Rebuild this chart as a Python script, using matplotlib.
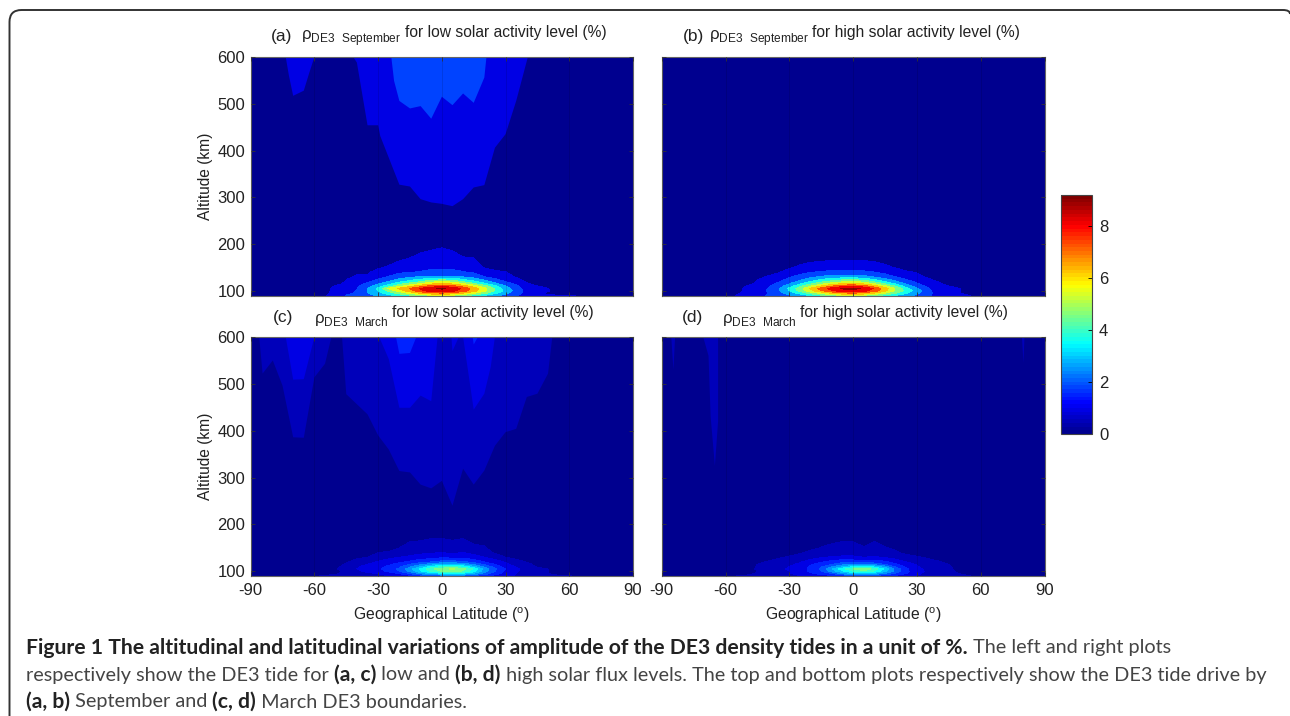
#altitude / latitude amplitude of DE3 density tide, 4 panels plus one colorbar
import numpy as np
import matplotlib
matplotlib.use('Agg')
import matplotlib.pyplot as plt
from matplotlib.colors import LinearSegmentedColormap, Normalize
from matplotlib.cm import ScalarMappable
from matplotlib.patches import PathPatch
from matplotlib.path import Path

plt.rcParams['font.family'] = ['Liberation Sans', 'DejaVu Sans']
plt.rcParams['mathtext.fontset'] = 'custom'
plt.rcParams['mathtext.rm'] = 'Liberation Sans'
plt.rcParams['axes.unicode_minus'] = False

W, H = 1290, 716

# lower blob tables, rows = altitude, columns = latitude
low_lat = list(range(-60, 75, 5))
low_alt = [90, 95, 100, 105, 110, 115, 120, 130, 140, 150, 170, 200]

a_low = [
    [.5, .85, 1.3, 1.9, 2.2, 2.5, 2.9, 3.4, 3.9, 4.4, 4.9, 5.3, 5.5, 5.3, 4.8, 4.2, 3.6, 3.0, 2.4, 1.9, 1.4, 1.1, 1.0, .95, .95, .9, .7],
    [.4, .75, 1.15, 1.5, 2.0, 2.7, 3.3, 4.1, 4.9, 5.7, 6.5, 7.1, 7.3, 7.0, 6.4, 5.6, 4.8, 3.9, 3.0, 2.2, 1.5, 1.0, .8, .7, .6, .5, .4],
    [.3, .75, 1.1, 1.4, 1.9, 2.8, 3.7, 4.8, 5.9, 7.0, 8.0, 8.7, 8.9, 8.6, 7.8, 6.8, 5.7, 4.5, 3.4, 2.4, 1.5, 1.1, 1.0, .5, .3, .2, .2],
    [.3, .75, 1.1, 1.35, 1.8, 2.8, 3.9, 5.7, 6.6, 7.4, 8.4, 9.1, 9.3, 9.0, 8.0, 7.0, 5.8, 4.5, 3.2, 2.2, 1.4, 1.05, .95, .4, .2, .15, .1],
    [.15, .5, 1.0, 1.2, 1.7, 2.4, 3.2, 4.2, 5.3, 6.2, 7.0, 7.7, 8.0, 7.7, 6.9, 6.0, 5.0, 3.9, 2.8, 2.0, 1.3, .95, .6, .3, .15, .1, .1],
    [.1, .2, .7, 1.1, 1.5, 2.0, 2.7, 3.4, 4.3, 5.0, 5.6, 6.3, 6.6, 6.3, 5.6, 4.8, 3.9, 3.0, 2.2, 1.7, 1.0, .7, .4, .2, .1, .1, .1],
    [.1, .1, .4, 1.0, 1.3, 1.7, 2.2, 2.8, 3.4, 4.0, 4.5, 5.2, 5.5, 5.2, 4.5, 3.8, 3.1, 2.4, 1.8, 1.3, .85, .55, .3, .1, .1, .1, .1],
    [.05, .1, .3, .8, 1.0, 1.0, 1.5, 1.9, 2.3, 2.6, 2.8, 2.9, 2.9, 2.9, 2.7, 2.4, 1.85, 1.5, 1.2, .85, .6, .3, .2, .1, .1, .05, .05],
    [.05, .05, .2, .6, .8, .85, 1.1, 1.4, 1.7, 1.8, 1.9, 2.0, 2.0, 2.0, 1.9, 1.7, 1.5, 1.05, .95, .6, .4, .2, .1, .05, .05, .05, .05],
    [.05, .05, .1, .4, .6, .7, .85, 1.0, 1.2, 1.4, 1.6, 1.7, 1.7, 1.7, 1.5, 1.3, .85, .7, .6, .4, .2, .1, .05, .05, .05, .05, .05],
    [0, 0, .05, .2, .3, .4, .5, .65, .8, .93, 1.1, 1.2, 1.25, 1.15, .95, .93, .6, .4, .3, .2, .1, .05, 0, 0, 0, 0, 0],
    [0, 0, 0, 0, 0, .1, .2, .3, .4, .5, .6, .7, .8, .7, .6, .5, .3, .2, .1, 0, 0, 0, 0, 0, 0, 0, 0],
]
b_low = [
    [.4, .95, 1.1, 1.5, 1.9, 2.2, 2.6, 3.1, 3.7, 4.3, 4.9, 5.3, 5.5, 5.2, 4.7, 4.1, 3.5, 3.0, 2.5, 2.0, 1.4, 1.0, .95, .9, .9, .7, .5],
    [.3, .75, 1.1, 1.4, 1.8, 2.4, 3.1, 3.9, 4.8, 5.6, 6.4, 7.0, 7.2, 6.9, 6.2, 5.4, 4.5, 3.7, 2.9, 2.1, 1.4, 1.0, .9, .6, .5, .4, .3],
    [.2, .7, 1.05, 1.4, 1.9, 2.6, 3.6, 4.8, 6.0, 7.1, 8.0, 8.6, 8.8, 8.4, 7.6, 6.5, 5.3, 4.2, 3.1, 2.1, 1.3, 1.0, .95, .4, .2, .15, .1],
    [.2, .65, 1.05, 1.3, 1.8, 2.6, 3.8, 5.0, 6.4, 7.6, 8.5, 9.1, 9.2, 8.9, 8.0, 6.7, 5.3, 3.9, 2.8, 1.9, 1.25, 1.0, .92, .3, .15, .1, .1],
    [.1, .4, .95, 1.2, 1.7, 2.3, 3.2, 4.3, 5.4, 6.4, 7.2, 7.8, 8.0, 7.6, 6.7, 5.6, 4.4, 3.2, 2.3, 1.6, 1.2, .92, .5, .2, .1, .1, .1],
    [.1, .1, .6, 1.1, 1.5, 2.0, 2.7, 3.5, 4.4, 5.2, 5.9, 6.4, 6.6, 6.2, 5.4, 4.5, 3.5, 2.6, 1.9, 1.4, 1.05, .6, .3, .1, .1, .1, .1],
    [.1, .1, .4, 1.0, 1.3, 1.7, 2.3, 2.9, 3.6, 4.2, 4.8, 5.2, 5.4, 5.0, 4.3, 3.5, 2.8, 2.1, 1.6, 1.2, .85, .4, .2, .1, .1, .1, .1],
    [0, 0, .2, .75, .95, 1.2, 1.7, 2.1, 2.5, 2.8, 3.0, 3.1, 3.1, 3.0, 2.6, 2.2, 1.8, 1.4, 1.1, .8, .5, .2, .1, 0, 0, 0, 0],
    [0, 0, .1, .5, .7, .85, 1.2, 1.5, 1.75, 1.9, 2.0, 2.0, 2.0, 1.95, 1.8, 1.55, 1.25, 1.0, .85, .5, .3, .1, .05, 0, 0, 0, 0],
    [0, 0, .05, .3, .5, .6, .8, 1.05, 1.2, 1.3, 1.4, 1.45, 1.45, 1.4, 1.25, 1.05, .85, .6, .5, .3, .1, 0, 0, 0, 0, 0, 0],
    [0, 0, 0, .1, .2, .3, .4, .55, .65, .7, .72, .74, .75, .72, .68, .6, .5, .3, .2, .1, 0, 0, 0, 0, 0, 0, 0],
    [0, 0, 0, 0, 0, 0, .1, .2, .3, .3, .4, .4, .4, .4, .3, .3, .2, .1, 0, 0, 0, 0, 0, 0, 0, 0, 0],
]
c_low = [
    [.45, .55, .6, .7, .85, .9, .95, 1.0, 1.1, 1.3, 1.6, 1.8, 2.0, 2.1, 2.0, 1.7, 1.5, 1.3, 1.1, .95, .8, .7, .6, .55, .52, .45, .4],
    [.3, .35, .45, .6, .8, .9, 1.0, 1.2, 1.5, 2.0, 2.6, 3.0, 3.3, 3.5, 3.3, 2.9, 2.3, 1.7, 1.3, 1.0, .8, .6, .5, .4, .3, .2, .2],
    [.2, .3, .4, .6, .9, 1.1, 1.3, 1.6, 2.0, 2.6, 3.4, 4.1, 4.5, 4.8, 4.4, 3.7, 2.7, 2.0, 1.4, 1.05, .8, .6, .5, .3, .2, .1, .1],
    [.2, .25, .45, .7, 1.0, 1.2, 1.4, 1.7, 2.1, 2.8, 3.6, 4.4, 4.8, 5.1, 4.7, 3.9, 2.8, 2.1, 1.5, 1.1, .8, .6, .5, .2, .1, .1, .1],
    [.1, .2, .4, .65, .95, 1.15, 1.35, 1.6, 1.9, 2.4, 3.0, 3.6, 4.0, 4.1, 3.8, 3.1, 2.4, 1.8, 1.3, .95, .7, .45, .3, .1, .1, .1, .1],
    [.1, .1, .3, .55, .85, 1.0, 1.2, 1.4, 1.7, 2.0, 2.4, 2.7, 3.0, 3.0, 2.8, 2.4, 1.9, 1.5, 1.1, .8, .6, .4, .2, .1, .1, .1, .1],
    [.1, .1, .2, .45, .7, .8, 1.05, 1.2, 1.4, 1.6, 1.85, 2.0, 2.2, 2.2, 2.1, 1.85, 1.5, 1.25, .95, .7, .48, .3, .1, .1, .1, .1, .1],
    [0, 0, .1, .3, .4, .5, .75, .9, 1.0, 1.1, 1.2, 1.3, 1.4, 1.35, 1.35, 1.2, 1.0, .75, .5, .35, .2, .1, 0, 0, 0, 0, 0],
    [0, 0, 0, .15, .2, .3, .5, .55, .7, .8, .9, .95, 1.0, .9, 1.0, .85, .7, .45, .35, .2, .1, 0, 0, 0, 0, 0, 0],
    [0, 0, 0, .1, .1, .2, .3, .35, .5, .6, .65, .75, .75, .7, .75, .6, .55, .3, .2, .1, 0, 0, 0, 0, 0, 0, 0],
    [0, 0, 0, 0, .05, .1, .2, .3, .35, .45, .45, .5, .5, .45, .5, .35, .3, .2, .1, 0, 0, 0, 0, 0, 0, 0, 0],
    [0, 0, 0, 0, 0, 0, .1, .1, .1, .1, .1, .1, .1, .1, .1, .1, .1, .1, 0, 0, 0, 0, 0, 0, 0, 0, 0],
]
d_low = [
    [.3, .5, .55, .6, .7, .8, .9, .95, 1.1, 1.2, 1.3, 1.5, 1.7, 1.8, 1.7, 1.5, 1.3, 1.1, .95, .8, .7, .6, .55, .5, .35, .2, .1],
    [.2, .3, .4, .55, .7, .8, .95, 1.2, 1.4, 1.7, 2.0, 2.6, 3.0, 3.1, 2.9, 2.4, 1.9, 1.5, 1.1, .85, .7, .55, .5, .3, .2, .1, .1],
    [.1, .2, .3, .5, .7, .85, 1.0, 1.3, 1.6, 2.0, 2.7, 3.4, 4.0, 4.3, 3.9, 3.1, 2.3, 1.6, 1.2, .9, .7, .55, .45, .2, .1, .1, .1],
    [.1, .15, .35, .55, .75, .9, 1.05, 1.3, 1.6, 2.1, 3.0, 3.8, 4.5, 4.9, 4.3, 3.4, 2.3, 1.6, 1.15, .85, .7, .55, .42, .15, .1, .1, .1],
    [.1, .1, .25, .55, .7, .85, 1.0, 1.25, 1.55, 1.95, 2.5, 3.0, 3.5, 3.7, 3.3, 2.7, 1.9, 1.4, 1.05, .8, .65, .55, .3, .1, .1, .1, .1],
    [.1, .1, .15, .5, .65, .75, .9, 1.1, 1.45, 1.7, 2.0, 2.3, 2.5, 2.5, 2.3, 1.95, 1.55, 1.2, .95, .75, .6, .5, .2, .1, .1, .1, .1],
    [.1, .1, .1, .4, .55, .65, .8, .95, 1.25, 1.45, 1.7, 1.85, 1.8, 1.7, 1.75, 1.6, 1.3, 1.0, .85, .65, .55, .4, .1, .1, .1, .1, .1],
    [0, 0, 0, .2, .3, .45, .55, .7, .8, .95, 1.05, 1.1, 1.1, 1.0, 1.05, .95, .8, .65, .55, .45, .3, .2, 0, 0, 0, 0, 0],
    [0, 0, 0, .1, .15, .25, .35, .45, .6, .7, .75, .75, .75, .65, .8, .7, .55, .4, .3, .2, .1, 0, 0, 0, 0, 0, 0],
    [0, 0, 0, .05, .1, .15, .25, .3, .4, .52, .58, .6, .6, .52, .6, .52, .45, .25, .15, .1, 0, 0, 0, 0, 0, 0, 0],
    [0, 0, 0, 0, 0, .05, .1, .15, .2, .3, .4, .45, .45, .35, .45, .35, .25, .15, .1, 0, 0, 0, 0, 0, 0, 0, 0],
    [0, 0, 0, 0, 0, 0, 0, .1, .1, .1, .1, .1, .1, .1, .1, .1, .1, 0, 0, 0, 0, 0, 0, 0, 0, 0, 0],
]

a_upper = [
    (0.92, [-73.5, -72, -70, -65, -62.5, -60], [600, 560, 517, 528, 565, 600]),
    (0.92, [-41.7, -40, -35, -30, -29, -20, -15, -10, -5, 0, 5, 10, 15, 20, 25, 30, 35, 40.5],
           [600, 588, 454, 454, 431, 327, 323, 296, 289, 286, 281, 296, 321, 326, 406, 435, 506, 600]),
    (1.84, [-23.8, -22.5, -20, -15, -10, -5, 0, 5, 10, 15, 20, 21],
           [600, 549, 506, 490, 495, 468, 515, 497, 522, 502, 556, 600]),
]
c_upper = [
    (0.5, [-86, -84.4, -79.6, -75, -70, -65, -60, -55, -52, -47, -45, -35, -30, -25, -20, -15, -10, -5, 0, 5, 10, 15, 20, 25, 30, 35, 40, 45, 50, 52],
          [600, 522, 550, 496, 386, 385, 514, 543, 600, 600, 478, 435, 390, 360, 314, 311, 285, 277, 293, 240, 319, 285, 315, 368, 397, 404, 472, 479, 522, 600]),
    (1.0, [-73.5, -70, -65, -60], [600, 509, 510, 600]),
    (1.0, [-29.5, -25, -20, -15, -10, -5, -2], [600, 553, 449, 449, 475, 463, 600]),
    (1.0, [4.5, 5, 8], [600, 570, 600]),
    (1.0, [10, 15, 20, 23, 25], [600, 445, 479, 536, 600]),
    (1.5, [-21.6, -20, -15, -12], [600, 564, 566, 600]),
    (1.5, [14.5, 15, 17], [600, 584, 600]),
]
d_upper = [
    (0.5, [-85.5, -84.5, -83.7], [600, 530, 600]),
    (0.5, [-70.5, -68, -67, -65, -63.5, -63.5], [600, 560, 430, 325, 420, 600]),
    (0.5, [79.3, 80, 80.5], [600, 545, 600]),
]

a_levels = [0.92, 1.84, 2.76, 3.68, 4.6, 5.52, 6.44, 7.36, 8.28, 9.2, 10]
b_levels = [0.9, 1.8, 2.7, 3.6, 4.5, 5.4, 6.3, 7.2, 8.1, 9.0, 10]
c_levels = [0.5, 1.0, 1.5, 2.0, 2.5, 3.0, 3.5, 4.0, 4.5, 5.0, 6]
d_levels = [0.5, 1.0, 1.5, 2.0, 2.5, 3.0, 3.5, 4.0, 4.5, 6]

x_ticks = [-90, -60, -30, 0, 30, 60, 90]
y_ticks = [100, 200, 300, 400, 500, 600]
cbar_ticks = [0, 2, 4, 6, 8]
cbar_max = 9.2

jet = LinearSegmentedColormap.from_list('mjet', [(0, '#00008f'), (.125, '#0000ff'), (.375, '#00ffff'),
                                                 (.625, '#ffff00'), (.875, '#ff0000'), (1, '#800000')], N=64)
norm = Normalize(0, cbar_max)


def px_axes(fig, left, top, right, bottom):
    return fig.add_axes([left / W, 1 - bottom / H, (right - left) / W, (bottom - top) / H])


def panel(fig, box, low, levels, upper, show_x, show_y):
    ax = px_axes(fig, *box)
    ax.set_facecolor(jet(0))
    for lev, lats, alts in upper:
        ax.fill(lats, alts, color=jet(norm(lev)), lw=0)
    cols = [jet(norm(l)) for l in levels[:-1]]
    ax.contourf(low_lat, low_alt, np.array(low), levels=levels, colors=cols)
    ax.set_xlim(-90, 90)
    ax.set_ylim(90, 600)
    ax.set_xticks(x_ticks)
    ax.set_yticks(y_ticks)
    ax.grid(axis='x', color='black', lw=0.5, alpha=0.16)
    ax.set_axisbelow(False)
    ax.tick_params(direction='in', length=3, width=0.6, color='#333333', labelcolor='#222222',
                   labelsize=12, top=True, right=True, labelbottom=show_x, labelleft=show_y, pad=4)
    ax.tick_params(axis='x', pad=5)
    for s in ax.spines.values():
        s.set_linewidth(0.8)
        s.set_color('#666666')
    if show_x:
        ax.set_xlabel(r'Geographical Latitude ($^{\mathrm{o}}$)', fontsize=11.3, color='#222222')
        ax.xaxis.set_label_coords(0.5, (box[3] - 615) / (box[3] - box[1]), transform=ax.transAxes)
        ax.xaxis.label.set_va('center')
    if show_y:
        ax.set_ylabel('Altitude (km)', fontsize=11.2, color='#222222')
        ax.yaxis.set_label_coords(-0.1195, 0.5)
        ax.yaxis.label.set_va('center')
    return ax


fig = plt.figure(figsize=(W / 100, H / 100), dpi=100)

panel(fig, (250.7, 57, 633, 295.5), a_low, a_levels, a_upper, False, True)
panel(fig, (661.7, 57, 1044.7, 295.5), b_low, b_levels, [], False, False)
panel(fig, (250.7, 337, 633, 576), c_low, c_levels, c_upper, True, True)
panel(fig, (661.7, 337, 1044.7, 576), d_low, d_levels, d_upper, True, False)

# panel titles
titles = [
    (271, 36, '(a)', 301, r'$\mathrm{ρ}_{\mathrm{DE3\ \ September}}$', 405, 33, 'for low solar activity level (%)'),
    (683, 36, '(b)', 709, r'$\mathrm{ρ}_{\mathrm{DE3\ \ September}}$', 812, 33, 'for high solar activity level (%)'),
    (273, 318, '(c)', 314, r'$\mathrm{ρ}_{\mathrm{DE3\ \ March}}$', 392, 313, 'for low solar activity level (%)'),
    (682, 318, '(d)', 722, r'$\mathrm{ρ}_{\mathrm{DE3\ \ March}}$', 800, 313, 'for high solar activity level (%)'),
]
for x0, y0, tag, x1, rho, x2, y2, rest in titles:
    fig.text(x0 / W, 1 - y0 / H, tag, fontsize=12.5, color='#222222', va='center')
    fig.text(x1 / W, 1 - (y0 + 2) / H, rho, fontsize=12.2, color='#222222', va='center')
    fig.text(x2 / W, 1 - y2 / H, rest, fontsize=11.25, color='#222222', va='center')

# colorbar
cax = px_axes(fig, 1061, 195, 1092, 434)
cb = fig.colorbar(ScalarMappable(norm=norm, cmap=jet), cax=cax, ticks=cbar_ticks)
cb.ax.tick_params(direction='in', length=3, width=0.6, labelsize=12, labelcolor='#222222', pad=5)
cb.outline.set_linewidth(0.8)
cb.outline.set_edgecolor('#444444')

# frame round the figure, open at the bottom and right
frame = Path([(9.5, 716), (9.5, 22), (9.5, 10), (21.5, 10), (1283, 10), (1290, 10), (1290, 14)],
             [Path.MOVETO, Path.LINETO, Path.CURVE3, Path.CURVE3, Path.LINETO, Path.CURVE3, Path.CURVE3])
fig.add_artist(PathPatch(frame.transformed(matplotlib.transforms.Affine2D().scale(1 / W, -1 / H).translate(0, 1)),
                         transform=fig.transFigure, fc='none', ec='#333333', lw=1.4))

# caption, runs of regular and bold text
caption = [
    (648, [('Figure 1 The altitudinal and latitudinal variations of amplitude of the DE3 density tides in a unit of %.', 'bold'),
           (' The left and right plots', 'normal')]),
    (675, [('respectively show the DE3 tide for ', 'normal'), ('(a, c)', 'bold'), (' low and ', 'normal'), ('(b, d)', 'bold'),
           (' high solar flux levels. The top and bottom plots respectively show the DE3 tide drive by', 'normal')]),
    (702, [('(a, b)', 'bold'), (' September and ', 'normal'), ('(c, d)', 'bold'), (' March DE3 boundaries.', 'normal')]),
]
r = fig.canvas.get_renderer()
for y, runs in caption:
    x = 26
    for s, w in runs:
        t = fig.text(x / W, 1 - y / H, s.replace(' ', '\u00a0'), fontsize=15.2 if w == 'bold' else 14.3, family='Lato',
                     weight=w, color='#222222' if w == 'bold' else '#444444', va='center')
        x = t.get_window_extent(r).x1

fig.savefig('out.png', dpi=100)
